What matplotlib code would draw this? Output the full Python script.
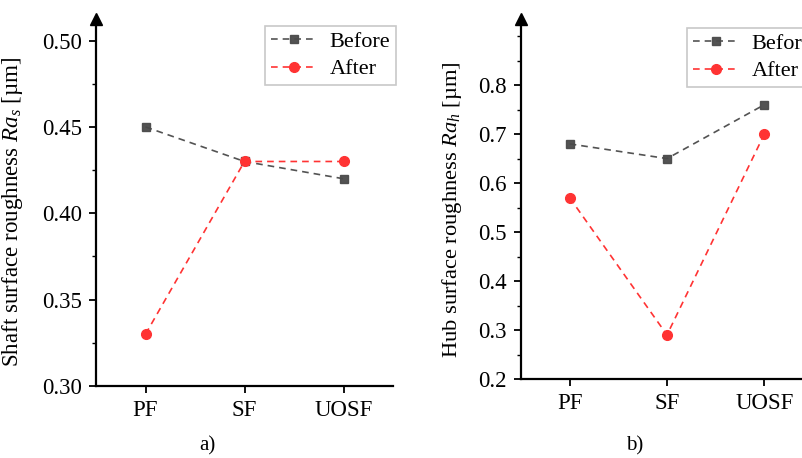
import matplotlib
matplotlib.use("Agg")
import matplotlib.pyplot as plt
from matplotlib.ticker import MultipleLocator

plt.rcParams['font.family'] = ['Liberation Serif', 'DejaVu Serif']
plt.rcParams['mathtext.fontset'] = 'custom'
plt.rcParams['mathtext.it'] = 'Liberation Serif:italic'
plt.rcParams['mathtext.rm'] = 'Liberation Serif'

categories = ["PF", "SF", "UOSF"]
shaft_before = [0.45, 0.43, 0.42]
shaft_after = [0.33, 0.43, 0.43]
hub_before = [0.68, 0.65, 0.76]
hub_after = [0.57, 0.29, 0.70]

fig = plt.figure(figsize=(8.02, 4.58), dpi=100)
W, H = 802, 458

def make_ax(left_px, right_px, bottom_px, top_px):
    return fig.add_axes([left_px / W, 1 - bottom_px / H, (right_px - left_px) / W, (bottom_px - top_px) / H])

ax1 = make_ax(96, 393, 386, 19)
ax2 = make_ax(521, 813, 379, 19)

gray = '#4a4a4a'
red = '#ff3333'

def style(ax, before, after, ylim, ylabel, fmt, label_x_px, label_y_px, label_size):
    x = range(len(categories))
    ax.plot(x, before, linestyle='--', color=gray, marker='s', markersize=6,
            linewidth=1.2, dashes=(4, 3), label='Before', alpha=0.95)
    ax.plot(x, after, linestyle='--', color=red, marker='o', markersize=7,
            linewidth=1.2, dashes=(4, 3), label='After')
    ax.set_xlim(-0.5, 2.5)
    ax.set_ylim(*ylim)
    ax.set_xticks(list(x))
    ax.set_xticklabels(categories)
    ax.yaxis.set_major_formatter(plt.FormatStrFormatter(fmt))
    for s in ['top', 'right']:
        ax.spines[s].set_visible(False)
    for s in ['left', 'bottom']:
        ax.spines[s].set_linewidth(1.6)
    ax.tick_params(axis='both', which='major', direction='out', length=5, width=1.3,
                   labelsize=16.5, pad=5)
    ax.tick_params(axis='y', which='minor', direction='out', length=3, width=1.0)
    ax.set_ylabel(ylabel, fontsize=label_size)
    bb = ax.get_position()
    ax.yaxis.set_label_coords((label_x_px / W - bb.x0) / bb.width,
                              ((1 - label_y_px / H) - bb.y0) / bb.height)
    # arrow at top of y-axis
    ax.plot([-0.5], [ylim[1]], marker='^', color='black', markersize=8, clip_on=False)
    leg = ax.legend(fontsize=16, handlelength=2.1, numpoints=1,
                    frameon=True, fancybox=False, borderpad=0.25, labelspacing=0.3,
                    handletextpad=0.55, borderaxespad=0.0)
    leg.get_frame().set_edgecolor('#bbbbbb')
    leg.get_frame().set_linewidth(1.2)
    return leg

leg1 = style(ax1, shaft_before, shaft_after, (0.30, 0.5125),
             r'Shaft surface roughness $\mathit{Ra}_s$ [µm]', '%.2f', 25, 212, 16.6)
ax1.yaxis.set_major_locator(MultipleLocator(0.05))
ax1.yaxis.set_minor_locator(MultipleLocator(0.025))
leg2 = style(ax2, hub_before, hub_after, (0.2, 0.935),
             r'Hub surface roughness $\mathit{Ra}_h$ [µm]', '%.1f', 464, 210, 16.2)
ax2.yaxis.set_major_locator(plt.FixedLocator([0.2, 0.3, 0.4, 0.5, 0.6, 0.7, 0.8]))
ax2.yaxis.set_minor_locator(plt.FixedLocator([0.25, 0.35, 0.45, 0.55, 0.65, 0.75, 0.85, 0.9]))

# place legends explicitly
leg1.set_bbox_to_anchor((265 / W, 1 - 26 / H), transform=fig.transFigure)
leg1._loc = 2
leg2.set_bbox_to_anchor((687 / W, 1 - 28 / H), transform=fig.transFigure)
leg2._loc = 2

fig.text(207 / W, 1 - 446 / H, 'a)', ha='center', va='center', fontsize=15)
fig.text(635 / W, 1 - 446 / H, 'b)', ha='center', va='center', fontsize=15)

fig.savefig('out.png', dpi=100)
